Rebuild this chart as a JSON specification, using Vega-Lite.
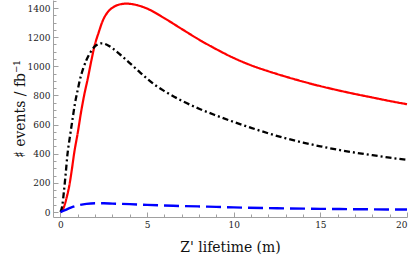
{
  "$schema": "https://vega.github.io/schema/vega-lite/v6.json",
  "width": 354,
  "height": 217,
  "autosize": {"type": "none"},
  "padding": {"left": 53, "top": 0, "right": 8, "bottom": 39},
  "config": {
    "view": {"stroke": null},
    "font": "DejaVu Serif Condensed, DejaVu Serif",
    "axis": {
      "grid": false,
      "domainColor": "#a0a0a0",
      "domainWidth": 1,
      "tickColor": "#a0a0a0",
      "labelColor": "#222222",
      "labelFont": "DejaVu Serif Condensed, DejaVu Serif",
      "labelFontSize": 10,
      "titleFont": "DejaVu Serif Condensed, DejaVu Serif",
      "titleFontWeight": "normal",
      "titleColor": "#111111",
      "titleFontSize": 15.5
    }
  },
  "data": {
    "values": [
      {"s": "red", "x": 0, "v": 0},
      {"s": "red", "x": 0.15, "v": 20},
      {"s": "red", "x": 0.27, "v": 60},
      {"s": "red", "x": 0.4, "v": 120},
      {"s": "red", "x": 0.5, "v": 174},
      {"s": "red", "x": 0.65, "v": 285},
      {"s": "red", "x": 0.79, "v": 403},
      {"s": "red", "x": 1.0, "v": 545},
      {"s": "red", "x": 1.21, "v": 700},
      {"s": "red", "x": 1.4, "v": 820},
      {"s": "red", "x": 1.56, "v": 906},
      {"s": "red", "x": 1.79, "v": 1043},
      {"s": "red", "x": 1.98, "v": 1146},
      {"s": "red", "x": 2.2, "v": 1230},
      {"s": "red", "x": 2.46, "v": 1318},
      {"s": "red", "x": 2.75, "v": 1375},
      {"s": "red", "x": 3.04, "v": 1405},
      {"s": "red", "x": 3.4, "v": 1424},
      {"s": "red", "x": 3.8, "v": 1430},
      {"s": "red", "x": 4.3, "v": 1423},
      {"s": "red", "x": 5.0, "v": 1396},
      {"s": "red", "x": 6.0, "v": 1330},
      {"s": "red", "x": 7.0, "v": 1256},
      {"s": "red", "x": 8.0, "v": 1183},
      {"s": "red", "x": 9.0, "v": 1117},
      {"s": "red", "x": 10.0, "v": 1057},
      {"s": "red", "x": 11.0, "v": 1007},
      {"s": "red", "x": 12.0, "v": 966},
      {"s": "red", "x": 13.0, "v": 929},
      {"s": "red", "x": 14.0, "v": 895},
      {"s": "red", "x": 15.0, "v": 864},
      {"s": "red", "x": 16.0, "v": 836},
      {"s": "red", "x": 17.0, "v": 810},
      {"s": "red", "x": 18.0, "v": 786},
      {"s": "red", "x": 19.0, "v": 762},
      {"s": "red", "x": 20.0, "v": 740},
      {"s": "black", "x": 0, "v": 0},
      {"s": "black", "x": 0.1, "v": 40},
      {"s": "black", "x": 0.2, "v": 140},
      {"s": "black", "x": 0.3, "v": 260},
      {"s": "black", "x": 0.4, "v": 390},
      {"s": "black", "x": 0.55, "v": 520},
      {"s": "black", "x": 0.69, "v": 631},
      {"s": "black", "x": 0.83, "v": 740},
      {"s": "black", "x": 1.0, "v": 840},
      {"s": "black", "x": 1.12, "v": 906},
      {"s": "black", "x": 1.3, "v": 980},
      {"s": "black", "x": 1.5, "v": 1043},
      {"s": "black", "x": 1.75, "v": 1100},
      {"s": "black", "x": 2.0, "v": 1138},
      {"s": "black", "x": 2.2, "v": 1153},
      {"s": "black", "x": 2.4, "v": 1158},
      {"s": "black", "x": 2.65, "v": 1150},
      {"s": "black", "x": 3.0, "v": 1124},
      {"s": "black", "x": 3.5, "v": 1075},
      {"s": "black", "x": 4.0, "v": 1022},
      {"s": "black", "x": 4.5, "v": 968},
      {"s": "black", "x": 5.0, "v": 915},
      {"s": "black", "x": 5.5, "v": 868},
      {"s": "black", "x": 6.0, "v": 830},
      {"s": "black", "x": 7.0, "v": 764},
      {"s": "black", "x": 8.0, "v": 709},
      {"s": "black", "x": 9.0, "v": 662},
      {"s": "black", "x": 10.0, "v": 618},
      {"s": "black", "x": 11.0, "v": 578},
      {"s": "black", "x": 12.0, "v": 540},
      {"s": "black", "x": 13.0, "v": 506},
      {"s": "black", "x": 14.0, "v": 477},
      {"s": "black", "x": 15.0, "v": 451},
      {"s": "black", "x": 16.0, "v": 428},
      {"s": "black", "x": 17.0, "v": 408},
      {"s": "black", "x": 18.0, "v": 390},
      {"s": "black", "x": 19.0, "v": 373},
      {"s": "black", "x": 20.0, "v": 358},
      {"s": "blue", "x": 0, "v": 0},
      {"s": "blue", "x": 0.3, "v": 15},
      {"s": "blue", "x": 0.6, "v": 30},
      {"s": "blue", "x": 1.0, "v": 45},
      {"s": "blue", "x": 1.5, "v": 56},
      {"s": "blue", "x": 2.0, "v": 60},
      {"s": "blue", "x": 2.5, "v": 60},
      {"s": "blue", "x": 3.0, "v": 58},
      {"s": "blue", "x": 4.0, "v": 54},
      {"s": "blue", "x": 5.0, "v": 49},
      {"s": "blue", "x": 6.5, "v": 43},
      {"s": "blue", "x": 8.5, "v": 37},
      {"s": "blue", "x": 10.0, "v": 32},
      {"s": "blue", "x": 12.5, "v": 26},
      {"s": "blue", "x": 15.0, "v": 22},
      {"s": "blue", "x": 17.5, "v": 19},
      {"s": "blue", "x": 20.0, "v": 17}
    ]
  },
  "resolve": {"axis": {"x": "independent", "y": "independent"}},
  "layer": [
    {
      "mark": {"type": "line", "opacity": 0},
      "encoding": {
        "x": {"field": "x", "type": "quantitative", "scale": {"domain": [-0.43, 20], "nice": false, "zero": false},
              "axis": {"orient": "bottom", "values": [1,2,3,4,6,7,8,9,11,12,13,14,16,17,18,19], "labels": false, "domain": false, "tickSize": -3, "title": null}},
        "y": {"field": "v", "type": "quantitative", "scale": {"domain": [-34, 1455], "nice": false, "zero": false},
              "axis": {"orient": "left", "values": [50,100,150,250,300,350,450,500,550,650,700,750,850,900,950,1050,1100,1150,1250,1300,1350,1450], "labels": false, "domain": false, "tickSize": -3, "title": null}}
      }
    },
    {
      "mark": {"type": "line", "interpolate": "monotone"},
      "encoding": {
        "x": {"field": "x", "type": "quantitative",
              "axis": {"orient": "bottom", "values": [0,5,10,15,20], "format": "d", "tickSize": -5, "labelPadding": 7, "title": "Z' lifetime (m)", "titlePadding": 10}},
        "y": {"field": "v", "type": "quantitative",
              "axis": {"orient": "left", "values": [0,200,400,600,800,1000,1200,1400], "format": "d", "tickSize": -5, "labelPadding": 8, "title": "♯ events / fb⁻¹", "titlePadding": 0}},
        "detail": {"field": "s"},
        "color": {"field": "s", "type": "nominal", "scale": {"domain": ["red", "black", "blue"], "range": ["#ff0000", "#000000", "#0000ff"]}, "legend": null},
        "strokeDash": {"field": "s", "type": "nominal", "scale": {"domain": ["red", "black", "blue"], "range": [[1, 0], [6, 3, 2, 3], [15, 6]]}, "legend": null},
        "strokeWidth": {"field": "s", "type": "nominal", "scale": {"domain": ["red", "black", "blue"], "range": [2.2, 2.4, 2.6]}, "legend": null}
      }
    }
  ]
}
